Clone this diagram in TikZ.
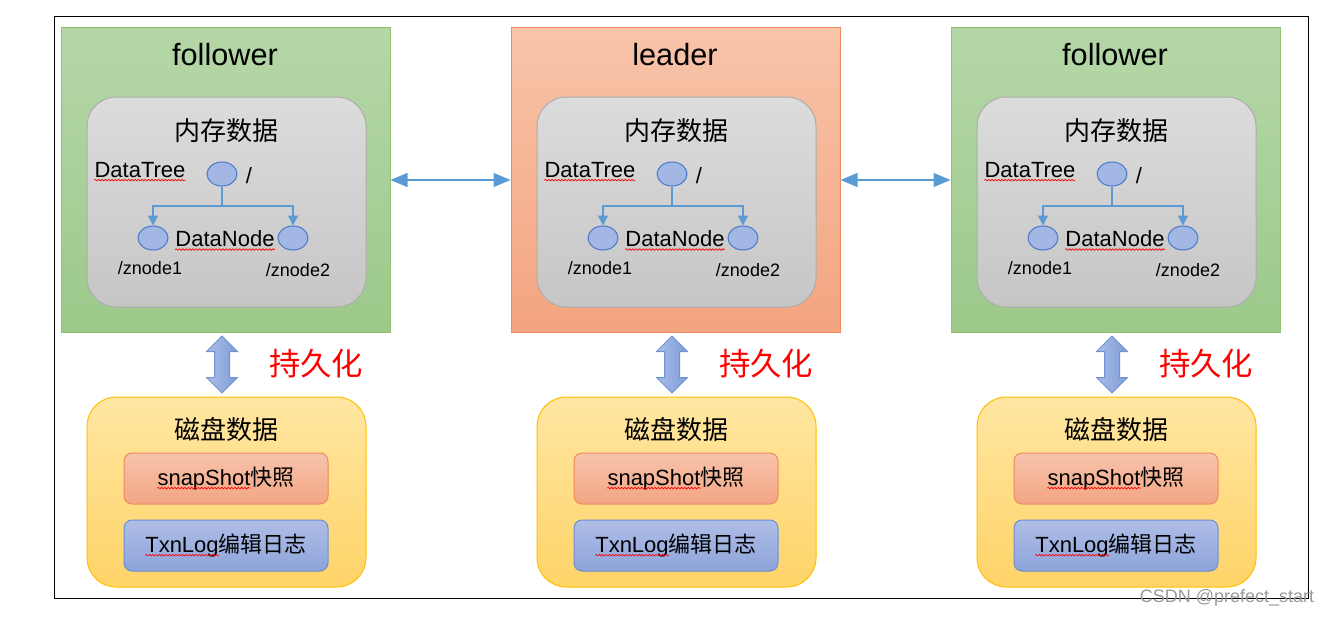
\documentclass[tikz,border=0pt]{standalone}
\usepackage{fontspec}
\setmainfont{Liberation Sans}
\newfontfamily\cjk{Noto Sans CJK SC}
\usetikzlibrary{shapes.geometric,shapes.arrows,arrows.meta,decorations.pathmorphing}

\definecolor{followerTop}{HTML}{B5D7A7}
\definecolor{followerBot}{HTML}{9CC98A}
\definecolor{followerLine}{HTML}{8DC070}
\definecolor{leaderTop}{HTML}{F8C4AA}
\definecolor{leaderBot}{HTML}{F4A47F}
\definecolor{leaderLine}{HTML}{EE8C60}
\definecolor{memTop}{HTML}{DCDCDC}
\definecolor{memBot}{HTML}{C6C6C6}
\definecolor{memLine}{HTML}{ADADAD}
\definecolor{diskTop}{HTML}{FFE6A2}
\definecolor{diskBot}{HTML}{FFD468}
\definecolor{diskLine}{HTML}{FFC000}
\definecolor{snapTop}{HTML}{F7C3AC}
\definecolor{snapBot}{HTML}{F3A583}
\definecolor{snapLine}{HTML}{EE8A5E}
\definecolor{txnTop}{HTML}{AFBEE7}
\definecolor{txnBot}{HTML}{8DA4DA}
\definecolor{txnLine}{HTML}{6C8ED0}
\definecolor{zFill}{HTML}{A3B7E5}
\definecolor{zLine}{HTML}{4A78C8}
\definecolor{linkBlue}{HTML}{5B9BD5}
\definecolor{persTop}{HTML}{AABEE8}
\definecolor{persBot}{HTML}{7E9BD7}
\definecolor{persLine}{HTML}{7192D2}

\tikzset{
  serverbox/.style={draw=#1Line, top color=#1Top, bottom color=#1Bot,
    line width=0.75pt, minimum width=246.75pt, minimum height=228pt, inner sep=0pt},
  memory/.style={draw=memLine, top color=memTop, bottom color=memBot, line width=0.75pt,
    rounded corners=22pt, minimum width=209.25pt, minimum height=157.5pt, inner sep=0pt},
  disk/.style={draw=diskLine, top color=diskTop, bottom color=diskBot, line width=0.75pt,
    rounded corners=22pt, minimum width=209.25pt, minimum height=142.5pt, inner sep=0pt},
  filebox/.style={draw=#1Line, top color=#1Top, bottom color=#1Bot, line width=0.75pt,
    rounded corners=6pt, minimum width=153pt, minimum height=38.25pt, inner sep=0pt},
  title/.style={font=\fontsize{23}{27}\selectfont},
  boxtitle/.style={font=\fontsize{19.5}{23}\selectfont\cjk},
  label/.style={font=\fontsize{16.5}{20}\selectfont, inner sep=0pt},
  small/.style={font=\fontsize{13.5}{16}\selectfont, inner sep=0pt},
  filetext/.style={font=\fontsize{16.5}{20}\selectfont, inner sep=0pt},
  znode/.style={ellipse, draw=zLine, fill=zFill, line width=0.75pt,
    minimum width=22.5pt, minimum height=18pt, inner sep=0pt},
  branch/.style={draw=linkBlue, line width=0.9pt},
  link/.style={draw=linkBlue, line width=0.9pt,
    {Triangle[width=10.5pt,length=12.75pt]}-{Triangle[width=10.5pt,length=12.75pt]}},
  persist/.style={double arrow, draw=persLine, top color=persTop, bottom color=persBot,
    shading angle=90, line width=0.75pt, rotate=90, minimum height=42.75pt,
    inner xsep=0pt, inner ysep=5.25pt, double arrow head extend=6pt},
  persisttext/.style={font=\fontsize{23.5}{27}\selectfont\cjk, text=red},
  squiggle/.style={draw=red, line width=0.5pt, decorate,
    decoration={snake, amplitude=0.6pt, segment length=2.5pt}},
  watermark/.style={font=\fontsize{13.5}{16}\selectfont, text=black!40, inner sep=0pt}
}

\begin{document}
\begin{tikzpicture}[x=0.75pt, y=-0.75pt]
  \useasboundingbox (0,0) rectangle (1333,617);
  % outer frame
  \draw[line width=0.75pt] (54,17) rectangle (1308,598);

  \foreach \i/\x/\role in {1/0/follower, 2/450/leader, 3/890/follower}{
    % server with memory data
    \node[serverbox=\role] (srv\i) at (225.5+\x,180) {};
    \node[title] (role\i) at (225+\x,55) {\role};
    \node[memory] (mem\i) at (226.5+\x,202) {};
    \node[boxtitle] (memt\i) at (226+\x,131) {内存数据};
    \node[znode] (root\i) at (222+\x,174) {};
    \node[label] (slash\i) at (249+\x,176) {/};
    \node[label] (tree\i) at (140+\x,170) {DataTree};
    \coordinate (fork\i) at (222+\x,206);
    \node[znode] (zna\i) at (153+\x,238) {};
    \node[znode] (znb\i) at (293+\x,238) {};
    \node[label] (dnode\i) at (225+\x,239) {DataNode};
    \node[small] (zonet\i) at (150+\x,268) {/znode1};
    \node[small] (ztwot\i) at (298+\x,270) {/znode2};
    \draw[branch] (root\i) -- (fork\i);
    \draw[branch,-{Triangle[width=7.5pt,length=7.5pt]}] (fork\i) -| (zna\i);
    \draw[branch,-{Triangle[width=7.5pt,length=7.5pt]}] (fork\i) -| (znb\i);
    \draw[squiggle] ([yshift=-2pt]tree\i.base west) -- ([yshift=-2pt]tree\i.base east);
    \draw[squiggle] ([yshift=-2pt]dnode\i.base west) -- ([yshift=-2pt]dnode\i.base east);

    % persistence
    \node[persist] (pers\i) at (222+\x,364.5) {};
    \node[persisttext] (keep\i) at (316+\x,364) {持久化};

    % disk data
    \node[disk] (disk\i) at (226.5+\x,492) {};
    \node[boxtitle] (diskt\i) at (226+\x,430) {磁盘数据};
    \node[filebox=snap] (snap\i) at (226+\x,478.5) {};
    \node[filetext] (snapt\i) at (snap\i) {snapShot{\cjk 快照}};
    \node[filetext, anchor=base west] (snapw\i) at (snapt\i.base west) {\phantom{snapShot}};
    \draw[squiggle] ([yshift=-2pt]snapw\i.base west) -- ([yshift=-2pt]snapw\i.base east);
    \node[filebox=txn] (txn\i) at (226+\x,545.5) {};
    \node[filetext] (txnt\i) at (txn\i) {TxnLog{\cjk 编辑日志}};
    \node[filetext, anchor=base west] (txnw\i) at (txnt\i.base west) {\phantom{TxnLog}};
    \draw[squiggle] ([yshift=-2pt]txnw\i.base west) -- ([yshift=-2pt]txnw\i.base east);
  }

  % links between servers
  \draw[link] (srv1.east) -- (srv2.west);
  \draw[link] (srv2.east) -- (srv3.west);

  \node[watermark] (csdn) at (1227,598) {CSDN @prefect\_start};
\end{tikzpicture}
\end{document}
